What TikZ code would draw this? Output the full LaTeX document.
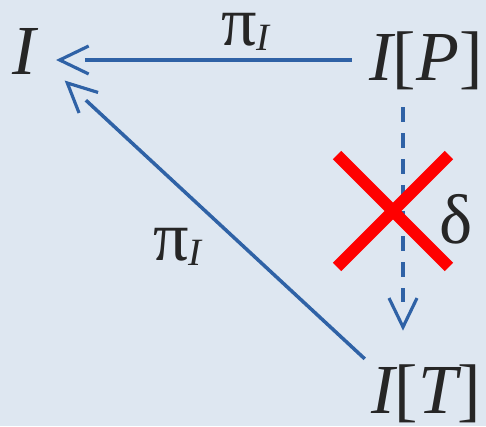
\documentclass[tikz,border=0pt]{standalone}
\usepackage{fontspec}
\setmainfont{Liberation Serif}
\usetikzlibrary{arrows.meta, shapes.misc}
\definecolor{bgblue}{RGB}{222,231,241}
\definecolor{mapblue}{RGB}{47,98,166}
\definecolor{txtgray}{RGB}{38,38,38}
\newcommand{\projI}{π\raisebox{-0.1cm}{\fontsize{22}{24}\selectfont\itshape I}}

\begin{document}
\begin{tikzpicture}[x=0.02cm, y=-0.02cm,
    every node/.style={font=\fontsize{40}{48}\selectfont, text=txtgray, inner sep=0pt},
    obj/.style={anchor=base, text height=0.96cm, text depth=0.16cm},
    lbl/.style={anchor=base west},
    % open head, shaft stops at the back of the barbs
    map/.style={draw=mapblue, line width=2pt, shorten >=#1+0.58cm,
                postaction={draw, dash pattern=on 0pt off 200cm, shorten >=#1,
                  -{Straight Barb[length=0.58cm, width=0.56cm, line width=1.8pt]}}}]
  \fill[bgblue] (0,0) rectangle (486,426);
  \useasboundingbox (0,0) rectangle (486,426);

  % objects
  \node[obj] (I)  at (24,74)   {\itshape I};
  \node[obj] (IP) at (426,80)  {\itshape I\upshape[\itshape P\upshape]};
  \node[obj] (IT) at (426,413) {\itshape I\upshape[\itshape T\upshape]};

  % maps
  \draw[map=0.4cm, line width=2.4pt, shorten <=0.35cm] (IP.west) -- (I.east |- IP.west);
  \draw[map=0.78cm, shorten <=0.17cm] (IT.north west) -- (I.east);
  \draw[map=0.68cm, dash pattern=on 8.5pt off 6.2pt, shorten <=0.38cm]
    ([xshift=-0.46cm]IP.south) -- ([xshift=-0.46cm]IP.south |- IT.north);

  \node[lbl] (pitop) at (221,45)  {\projI};
  \node[lbl] (pilow) at (153,260) {\projI};
  \node[lbl] (delta) at (439,243) {δ};

  % no such map
  \node[draw=red, cross out, line width=0.24cm, outer sep=0pt, minimum size=2.24cm] (nodelta) at (393,211) {};
\end{tikzpicture}
\end{document}
